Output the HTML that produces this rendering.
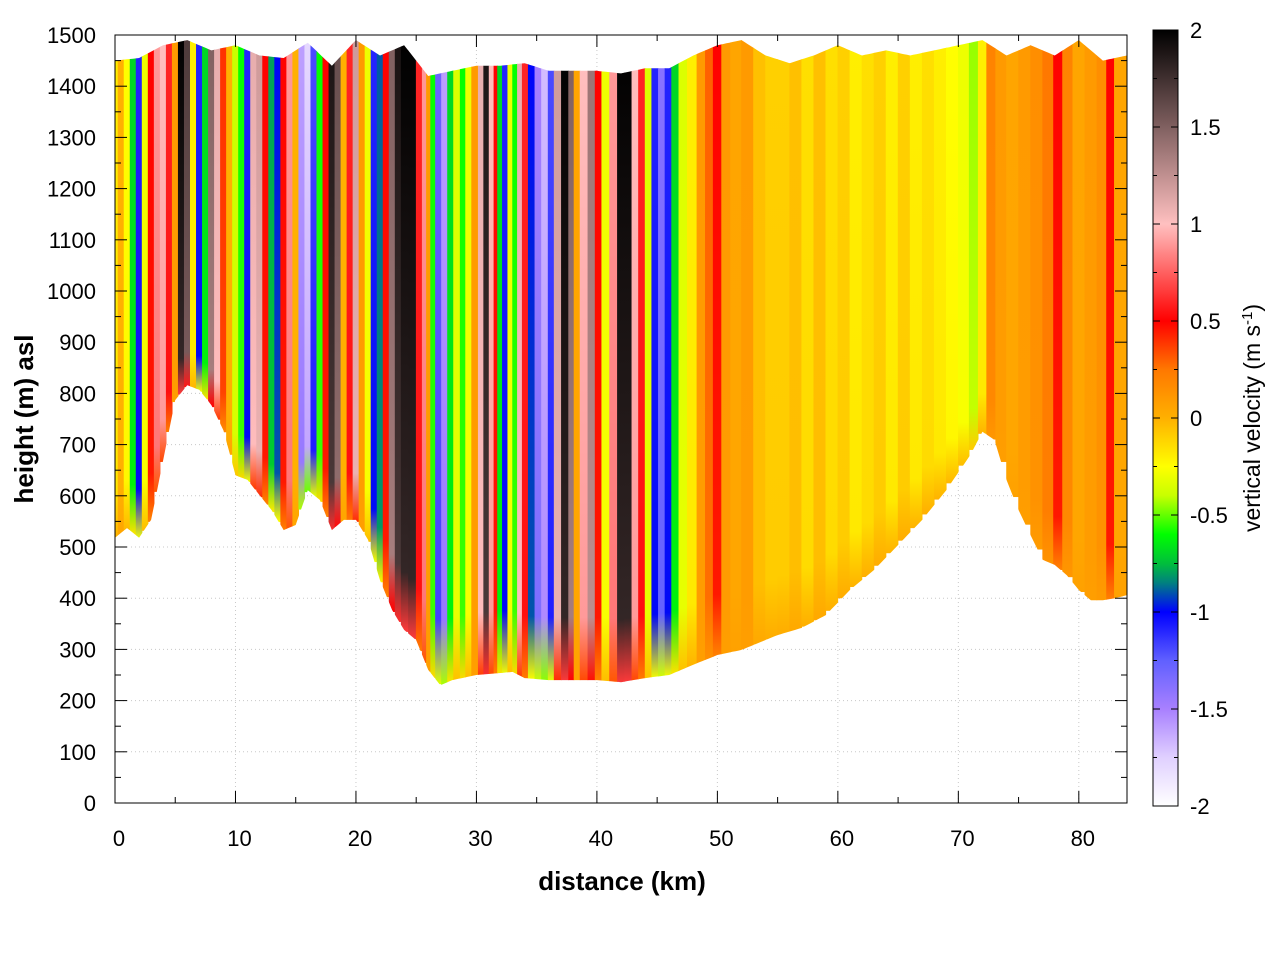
<!DOCTYPE html>
<html><head><meta charset="utf-8"><style>
html,body{margin:0;padding:0;background:#fff;}
svg text{font-family:"Liberation Sans",sans-serif;}
</style></head><body>
<svg id="chart" width="1280" height="960" viewBox="0 0 1280 960" xmlns="http://www.w3.org/2000/svg">
<defs id="defs"></defs>
<g id="plot"></g>
<g id="axes"></g>
<g id="cbar"></g>
</svg>
<script>
// ---- data ----
const colKm = [0,0.5,1,1.5,2,2.5,3,3.5,4,4.5,5,5.5,6,6.5,7,7.5,8,8.5,9,9.5,10,10.5,11,11.5,12,12.5,13,13.5,14,14.5,15,15.5,16,16.5,17,17.5,18,18.5,19,19.5,20,20.5,21,21.5,22,22.5,23,23.5,24,24.7,25.3,25.7,26.0,26.4,26.8,27.4,27.8,28.4,28.9,29.3,29.9,30.4,30.8,31.3,31.6,31.9,32.4,32.8,33.2,33.6,34.0,34.6,35.1,35.7,36.2,36.7,37.4,37.9,38.3,38.9,39.6,40.1,40.7,41.4,42.0,42.6,43.2,43.7,44.3,44.8,45.4,45.9,46.5,47.1,47.9,48.7,49.3,50,50.7,51.5,52.5,53.5,54.5,55.5,56.5,57.5,58.5,59.5,60.5,61.5,62.5,63.5,64.5,65.5,66.5,67.5,68.5,69.5,70.5,71.3,72,72.7,73.5,74.5,75.5,76.5,77.5,78.3,79,80,81,82,82.6,83.3,84];
const colW = [-0.2,0,-0.25,-0.7,-1.1,-0.3,0.5,0.9,1.0,0.6,0.1,2,1.7,-0.2,-1.1,-0.7,1.5,1.1,0.4,0,-0.4,-0.6,-1.1,1.1,1.2,0.5,-0.8,-1.0,0.5,0.9,0,-1.6,-1.8,-1.2,-0.6,0.5,1.9,1.6,0,0.6,1.2,0.1,-0.3,-1.1,-0.9,0.5,1.5,1.9,2,2,0.6,0.9,0.1,-0.6,-1.3,-1.6,-0.7,-0.35,-0.6,-0.3,0.1,1.1,1.9,1.0,0.5,-0.7,-1.1,-0.3,-0.6,1.1,0.6,-1.0,-1.5,-1.7,-1.2,1.2,2,1.5,0.05,1.0,1.4,0.5,-0.3,0.9,2,2,1.0,0.6,-0.35,-1.1,-1.4,-1.1,-0.7,-0.35,-0.2,0.1,0.3,0.5,0.1,0.05,0.1,-0.05,-0.1,-0.1,-0.05,-0.15,-0.05,-0.15,-0.1,-0.2,-0.15,-0.1,-0.2,-0.1,-0.2,-0.15,-0.2,-0.25,-0.3,-0.45,-0.2,0.2,0.1,0.05,0.1,0.15,0.25,0.5,0.2,0.05,0.1,0.15,0.5,0.05,0.05];
const groundKm = [0,1,2,3,4,5,6,7,8,9,10,11,12,13,14,15,16,17,18,19,20,21,22,23,24,25,26,27,28,30,32,33,34,36,40,42,44,46,48,50,52,55,57,59,61,63,65,67,69,71,72,73,74,75,76,77,78,79,80,81,82,83,84];
const groundH = [518,537,518,553,670,787,816,807,777,728,640,631,601,572,533,543,611,592,533,553,553,514,435,377,338,318,260,230,240,250,254,256,244,240,240,236,244,250,270,289,299,328,342,367,416,455,504,553,611,680,725,709,631,572,523,475,465,445,416,396,396,400,406];
const topKm = [0,2,4,6,8,10,12,14,16,18,20,22,24,26,28,30,32,34,36,38,40,42,44,46,48,50,52,54,56,58,60,62,64,66,68,70,72,74,76,78,80,82,84];
const topH = [1450,1455,1480,1490,1470,1480,1460,1455,1485,1440,1490,1460,1480,1420,1430,1440,1440,1445,1430,1430,1430,1425,1435,1435,1460,1480,1490,1460,1445,1460,1480,1460,1470,1460,1470,1480,1490,1460,1480,1460,1490,1450,1460];
const xTicks = [0,10,20,30,40,50,60,70,80];
const yTicks = [0,100,200,300,400,500,600,700,800,900,1000,1100,1200,1300,1400,1500];
const cbTicks = [2,1.5,1,0.5,0,-0.5,-1,-1.5,-2];

// ---- scales ----
const X0=115,X1=1127,Y0=803,Y1=35;
const xs = k => X0 + (k-0)/(84-0)*(X1-X0);
const ys = h => Y0 - h/1500*(Y0-Y1);
const NS='http://www.w3.org/2000/svg';
function mk(tag,attrs,parent){const e=document.createElementNS(NS,tag);for(const k in attrs)e.setAttribute(k,attrs[k]);if(parent)parent.appendChild(e);return e;}
function interp(xa,ya,x){if(x<=xa[0])return ya[0];for(let i=1;i<xa.length;i++){if(x<=xa[i]){const t=(x-xa[i-1])/(xa[i]-xa[i-1]);return ya[i-1]+t*(ya[i]-ya[i-1]);}}return ya[ya.length-1];}
const cmapV=[-2,-1.75,-1.5,-1.25,-1.0,-0.85,-0.75,-0.6,-0.4,-0.25,0,0.25,0.5,0.75,1.0,1.25,1.5,1.75,2];
const cmapC=[[255,255,255],[224,208,255],[168,128,255],[96,96,255],[0,0,255],[0,128,128],[0,190,60],[0,255,0],[200,255,0],[255,255,0],[255,176,0],[255,120,0],[255,0,0],[255,96,96],[255,192,192],[192,144,144],[128,96,96],[64,48,48],[0,0,0]];
function cmap(v){v=Math.max(-2,Math.min(2,v));for(let i=1;i<cmapV.length;i++){if(v<=cmapV[i]){const t=(v-cmapV[i-1])/(cmapV[i]-cmapV[i-1]);const a=cmapC[i-1],b=cmapC[i];return 'rgb('+a.map((c,j)=>Math.round(c+t*(b[j]-c))).join(',')+')';}}return 'rgb(0,0,0)';}

const defs=document.getElementById('defs');
const plot=document.getElementById('plot');
const axes=document.getElementById('axes');
const cbar=document.getElementById('cbar');

let pts=[];
for(let k=0;k<=84;k+=0.25){pts.push(xs(k).toFixed(1)+','+ys(interp(topKm,topH,k)).toFixed(1));}
for(let k=84;k>=0;k-=0.25){pts.push(xs(k).toFixed(1)+','+ys(interp(groundKm,groundH,k)).toFixed(1));}
const cp=mk('clipPath',{id:'dom'},defs);
mk('polygon',{points:pts.join(' ')},cp);

yTicks.forEach(t=>{if(t>0&&t<1500){const l=mk('line',{x1:X0,x2:X1,y1:ys(t),y2:ys(t),stroke:'#c8c8c8','stroke-width':1,'stroke-dasharray':'1,3'},plot);

}});
xTicks.forEach(t=>{if(t>0){const l=mk('line',{x1:xs(t),x2:xs(t),y1:Y0,y2:Y1,stroke:'#c8c8c8','stroke-width':1,'stroke-dasharray':'1,3'},plot);

}});

const sg=mk('g',{'clip-path':'url(#dom)'},plot);


for(let i=0;i<colKm.length;i++){
  const l=i==0?colKm[0]:(colKm[i-1]+colKm[i])/2;
  const r=i==colKm.length-1?colKm[i]:(colKm[i]+colKm[i+1])/2;
  const gH=interp(groundKm,groundH,colKm[i]);
  const v=colW[i];
  const g=mk('linearGradient',{id:'g'+i,x1:0,y1:0,x2:0,y2:1},defs);
  mk('stop',{offset:0,'stop-color':cmap(v)},g);
  mk('stop',{offset:0.9,'stop-color':cmap(v*0.9)},g);
  mk('stop',{offset:1,'stop-color':cmap(0.05+v*0.3)},g);
  const rc=mk('rect',{x:xs(l)-0.3,y:Y1-2,width:xs(r)-xs(l)+0.6,height:ys(gH)-Y1+4,fill:'url(#g'+i+')'},sg);
  
  
}

const fr=mk('rect',{x:X0,y:Y1,width:X1-X0,height:Y0-Y1,fill:'none',stroke:'#000','stroke-width':1},axes);


for(let k=0;k<=84;k+=5){const len=(k%10==0)?12:6;
  mk('line',{x1:xs(k),x2:xs(k),y1:Y0,y2:Y0-len,stroke:'#000'},axes);
  mk('line',{x1:xs(k),x2:xs(k),y1:Y1,y2:Y1+len,stroke:'#000'},axes);}
for(let h=0;h<=1500;h+=50){const len=(h%100==0)?12:6;
  mk('line',{x1:X0,x2:X0+len,y1:ys(h),y2:ys(h),stroke:'#000'},axes);
  mk('line',{x1:X1,x2:X1-len,y1:ys(h),y2:ys(h),stroke:'#000'},axes);}
xTicks.forEach(t=>{const tx=mk('text',{x:xs(t)+4,y:846,'font-size':22,'text-anchor':'middle'},axes);tx.textContent=t;

});
yTicks.forEach(t=>{const tx=mk('text',{x:96,y:ys(t)+8,'font-size':22,'text-anchor':'end'},axes);tx.textContent=t;

});

const CX=1153,CW=25,CT=30,CB=806;
const cg=mk('linearGradient',{id:'cbg',x1:0,y1:0,x2:0,y2:1},defs);
for(let v=2;v>=-2.001;v-=0.05){mk('stop',{offset:((2-v)/4).toFixed(4),'stop-color':cmap(v)},cg);}
const cr=mk('rect',{x:CX,y:CT,width:CW,height:CB-CT,fill:'url(#cbg)',stroke:'#000','stroke-width':1},cbar);


const cy=v=>CT+(2-v)/4*(CB-CT);
for(let v=-2;v<=2.001;v+=0.25){const len=(Math.abs(v*2-Math.round(v*2))<0.01)?7:4;
  mk('line',{x1:CX,x2:CX+len,y1:cy(v),y2:cy(v),stroke:'#000'},cbar);
  mk('line',{x1:CX+CW,x2:CX+CW-len,y1:cy(v),y2:cy(v),stroke:'#000'},cbar);}
cbTicks.forEach(t=>{const tx=mk('text',{x:1190,y:cy(t)+8,'font-size':22},cbar);tx.textContent=t;

});
</script>
<svg style="position:absolute;left:0;top:0" width="1280" height="960">
<text x="622" y="890" font-size="26" font-weight="bold" text-anchor="middle" font-family="Liberation Sans, sans-serif">distance (km)</text>
<text transform="translate(33,419) rotate(-90)" font-size="26" font-weight="bold" text-anchor="middle" font-family="Liberation Sans, sans-serif">height (m) asl</text>
<text transform="translate(1260,418) rotate(-90)" font-size="23" text-anchor="middle" font-family="Liberation Sans, sans-serif">vertical velocity (m s<tspan dy="-8" font-size="15">-1</tspan><tspan dy="8">)</tspan></text>
</svg>
</body></html>
